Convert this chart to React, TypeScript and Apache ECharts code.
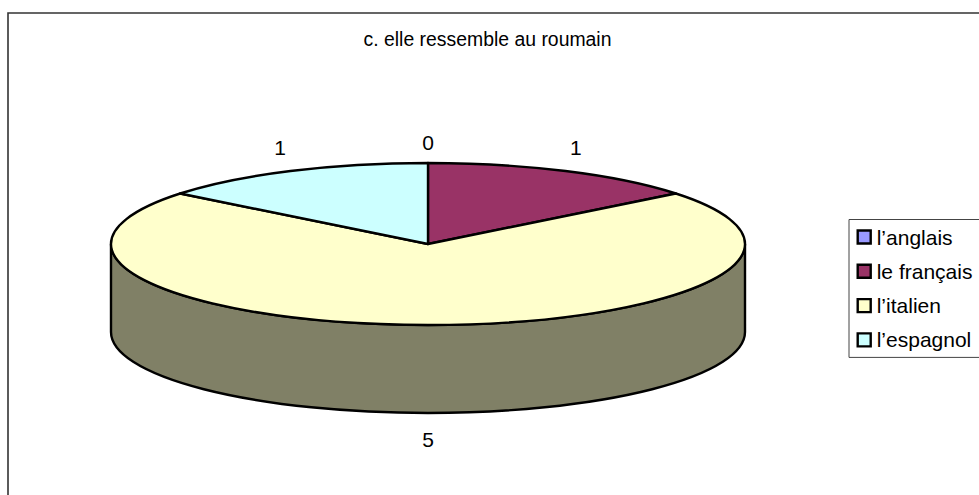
import React, { useEffect, useRef } from "react";
import * as echarts from "echarts";

const titleText = "c. elle ressemble au roumain";
const categories = ["l’anglais", "le français", "l’italien", "l’espagnol"];
const values = [0, 1, 5, 1];
const sliceColors = ["#9999FF", "#993366", "#FFFFCC", "#CCFFFF"];
const sideColors = ["#4C4C80", "#4C1933", "#808066", "#668080"];

const FONT = '"Liberation Sans", Arial, sans-serif';
const CX = 428;
const CY = 244;
const RX = 317;
const RY = 81;
const DEPTH = 88;
const LW = 2.4;

const total = values.reduce((a, b) => a + b, 0);
const toAngle = (v: number) => (v / total) * Math.PI * 2;
const ptX = (a: number) => CX + RX * Math.sin(a);
const ptY = (a: number) => CY - RY * Math.cos(a);

const startOf = (i: number) => toAngle(values.slice(0, i).reduce((a, b) => a + b, 0));

function topPath(a0: number, a1: number) {
  const large = a1 - a0 > Math.PI ? 1 : 0;
  return `M${CX} ${CY}L${ptX(a0)} ${ptY(a0)}A${RX} ${RY} 0 ${large} 1 ${ptX(a1)} ${ptY(a1)}Z`;
}

function sidePath(a0: number, a1: number) {
  const s = Math.max(a0, Math.PI / 2);
  const e = Math.min(a1, (Math.PI * 3) / 2);
  if (e <= s) return null;
  const large = e - s > Math.PI ? 1 : 0;
  return (
    `M${ptX(s)} ${ptY(s)}A${RX} ${RY} 0 ${large} 1 ${ptX(e)} ${ptY(e)}` +
    `L${ptX(e)} ${ptY(e) + DEPTH}A${RX} ${RY} 0 ${large} 0 ${ptX(s)} ${ptY(s) + DEPTH}Z`
  );
}

function makeRender(i: number) {
  return () => {
    const a0 = startOf(i);
    const a1 = a0 + toAngle(values[i]);
    const mid = (a0 + a1) / 2;
    const children: any[] = [];
    const side = sidePath(a0, a1);
    if (side) {
      children.push({
        type: "path",
        shape: { pathData: side },
        style: { fill: sideColors[i], stroke: "#000", lineWidth: LW },
      });
    }
    children.push({
      type: "path",
      shape: { pathData: topPath(a0, a1) },
      style: { fill: sliceColors[i], stroke: "#000", lineWidth: LW, lineJoin: "round" },
    });
    const front = Math.cos(mid) < 0;
    const lx = CX + (RX + 24) * Math.sin(mid);
    const ly = front
      ? CY - RY * Math.cos(mid) + DEPTH + 26
      : CY - RY * Math.cos(mid) - 21 - 5 * Math.abs(Math.sin(mid));
    children.push({
      type: "text",
      style: {
        x: lx,
        y: ly,
        text: String(values[i]),
        fill: "#000",
        font: `21px ${FONT}`,
        align: "center",
        verticalAlign: "middle",
      },
    });
    return { type: "group", children };
  };
}

export default function App() {
  const ref = useRef<HTMLDivElement>(null);
  useEffect(() => {
    document.body.style.margin = "0";
    const chart = echarts.init(ref.current!, undefined, { renderer: "svg" });
    chart.setOption({
      animation: false,
      backgroundColor: "#fff",
      title: {
        text: titleText,
        left: 487.5,
        top: 29,
        textAlign: "center",
        padding: 0,
        textStyle: { fontFamily: FONT, fontSize: 19.4, fontWeight: "normal", color: "#000" },
      },
      legend: {
        orient: "vertical",
        left: 849,
        top: 219.5,
        padding: [7, 60, 7, 7.5],
        itemWidth: 13,
        itemHeight: 13,
        itemGap: 13.3,
        borderColor: "#444",
        borderWidth: 1,
        icon: "rect",
        data: categories,
        itemStyle: { borderColor: "#000", borderWidth: 2.4 },
        textStyle: { fontFamily: FONT, fontSize: 21, color: "#000", lineHeight: 20, padding: [0, 0, 0, 1] },
        selectedMode: false,
      },
      graphic: [
        {
          type: "rect",
          silent: true,
          z: -1,
          shape: { x: 8, y: 13, width: 1500, height: 900 },
          style: { fill: "none", stroke: "#333", lineWidth: 1.6 },
        },
      ],
      series: categories.map((name, i) => ({
        type: "custom",
        name,
        coordinateSystem: "none",
        itemStyle: { color: sliceColors[i], borderColor: "#000", borderWidth: 2.4 },
        renderItem: makeRender(i),
        data: [values[i]],
        silent: true,
      })),
    });
    return () => chart.dispose();
  }, []);
  return <div ref={ref} style={{ position: "fixed", left: 0, top: 0, width: 979, height: 495 }} />;
}
